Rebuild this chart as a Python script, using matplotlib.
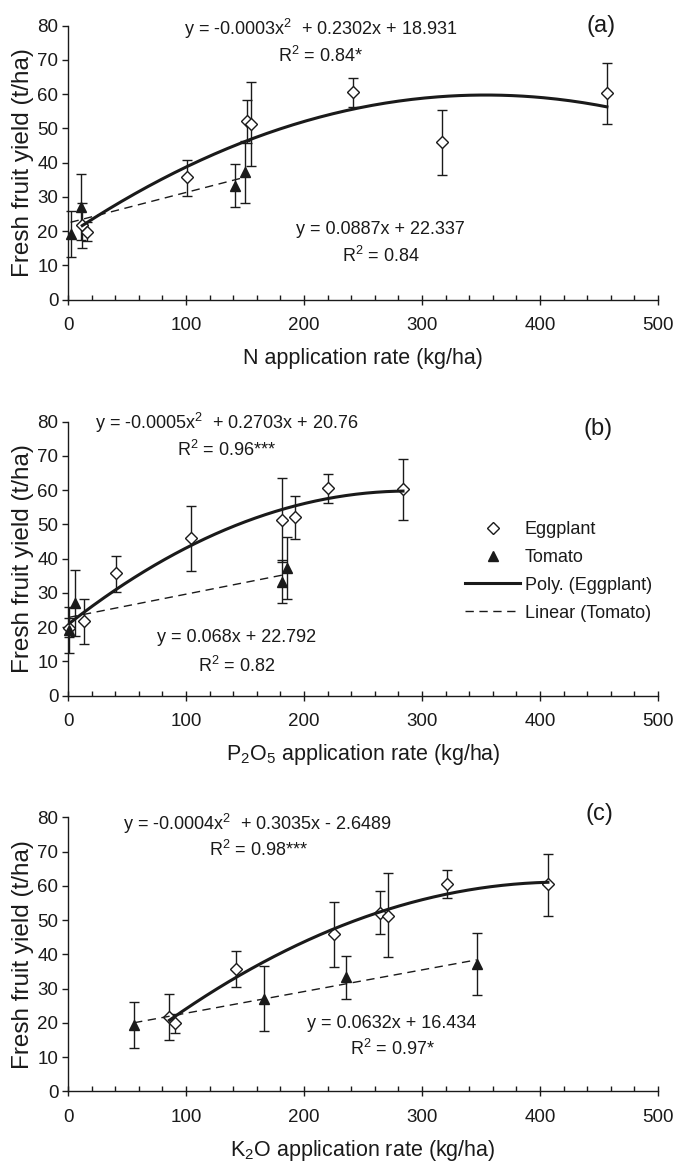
import matplotlib
matplotlib.use('Agg')
import matplotlib.pyplot as plt
import numpy as np

plt.rcParams['font.family'] = ['Liberation Sans', 'DejaVu Sans']
plt.rcParams['mathtext.fontset'] = 'custom'
plt.rcParams['mathtext.rm'] = 'Liberation Sans'
plt.rcParams['mathtext.it'] = 'Liberation Sans:italic'
plt.rcParams['mathtext.default'] = 'regular'

INK = '#1a1a1a'

# Eggplant yields (t/ha), same 8 treatments in every panel, with error bar ends
egg_y = [21.7, 19.8, 35.8, 45.9, 52.1, 51.3, 60.5, 60.4]
egg_lo = [15.0, 17.0, 30.4, 36.3, 45.8, 39.1, 56.4, 51.3]
egg_hi = [28.3, 22.6, 40.9, 55.4, 58.4, 63.7, 64.7, 69.2]
# Tomato yields (t/ha), 4 treatments
tom_y = [19.3, 27.0, 33.3, 37.2]
tom_lo = [12.6, 17.5, 27.0, 28.2]
tom_hi = [26.0, 36.7, 39.6, 46.2]

# application rates (kg/ha), in the treatment order above
egg_n = [12.1, 15.8, 101, 316.6, 151.5, 155.2, 241.4, 456.7]
egg_p = [13.5, 1.0, 41, 104.4, 192.7, 181, 220.5, 283.9]
egg_k = [86, 90.8, 142, 225.8, 264.6, 271.2, 321.4, 406.7]
tom_n = [2.2, 11, 141.6, 150.4]
tom_p = [1.1, 6.2, 181, 185.7]
tom_k = [56, 166.5, 236, 346.3]

x_labels = ['N application rate (kg/ha)',
            'P$_2$O$_5$ application rate (kg/ha)',
            'K$_2$O application rate (kg/ha)']
panel_tags = ['(a)', '(b)', '(c)']
poly_eqs = ['y = -0.0003x$^2$  + 0.2302x + 18.931',
            'y = -0.0005x$^2$  + 0.2703x + 20.76',
            'y = -0.0004x$^2$  + 0.3035x - 2.6489']
poly_r2 = ['R$^2$ = 0.84*', 'R$^2$ = 0.96***', 'R$^2$ = 0.98***']
lin_eqs = ['y = 0.0887x + 22.337', 'y = 0.068x + 22.792', 'y = 0.0632x + 16.434']
lin_r2 = ['R$^2$ = 0.84', 'R$^2$ = 0.82', 'R$^2$ = 0.97*']

egg_x = [egg_n, egg_p, egg_k]
tom_x = [tom_n, tom_p, tom_k]

# text anchor points in data units: (poly eq, poly r2, lin eq, lin r2, tag)
text_pos = [
    [(214.6, 79.0), (214, 71.2), (264.5, 20.6), (265, 12.8), (452, 80.0)],
    [(134.8, 79.7), (134.4, 71.8), (142.9, 17.1), (143, 8.8), (449.5, 77.9)],
    [(161, 78.2), (161.4, 70.6), (274, 19.7), (275, 12.5), (450, 81.0)],
]

fig = plt.figure(figsize=(6.81, 11.68), dpi=100)
W, H = 681.0, 1168.0
tops = [25.7, 421.7, 817.3]
ax_h = 274.0
axes = [fig.add_axes([68 / W, 1 - (t + ax_h) / H, 590 / W, ax_h / H]) for t in tops]

for i, ax in enumerate(axes):
    xe = np.array(egg_x[i], dtype=float)
    xt = np.array(tom_x[i], dtype=float)
    ye = np.array(egg_y)
    yt = np.array(tom_y)

    ax.errorbar(xe, ye, yerr=[ye - np.array(egg_lo), np.array(egg_hi) - ye],
                fmt='none', ecolor=INK, elinewidth=1, capsize=3.8, capthick=1,
                zorder=2, clip_on=False)
    ax.errorbar(xt, yt, yerr=[yt - np.array(tom_lo), np.array(tom_hi) - yt],
                fmt='none', ecolor=INK, elinewidth=1, capsize=3.8, capthick=1,
                zorder=2, clip_on=False)
    ax.plot(xe, ye, 'D', ms=6, mfc='white', mec=INK, mew=1, ls='none',
            zorder=3, clip_on=False, label='Eggplant')
    ax.plot(xt, yt, '^', ms=6.5, color=INK, ls='none', zorder=3,
            clip_on=False, label='Tomato')

    # trend lines fitted to the points
    pe = np.polyfit(xe, ye, 2)
    xs = np.linspace(xe.min(), xe.max(), 200)
    ax.plot(xs, np.polyval(pe, xs), '-', lw=2.2, color=INK, zorder=4,
            label='Poly. (Eggplant)')
    pt = np.polyfit(xt, yt, 1)
    xl = np.array([xt.min(), xt.max()])
    ax.plot(xl, np.polyval(pt, xl), color=INK, lw=1, dashes=(6, 4), zorder=4,
            label='Linear (Tomato)')

    ax.set_xlim(0, 500)
    ax.set_ylim(0, 80)
    ax.set_xticks(range(0, 501, 100))
    ax.set_xticks(range(0, 501, 20), minor=True)
    ax.set_yticks(range(0, 81, 10))
    for s in ['top', 'right']:
        ax.spines[s].set_visible(False)
    for s in ['left', 'bottom']:
        ax.spines[s].set_color(INK)
        ax.spines[s].set_linewidth(1.0)
    ax.tick_params(axis='x', which='major', direction='inout', length=7.2,
                   width=1, color=INK, pad=9, labelsize=13.5, labelcolor=INK)
    ax.tick_params(axis='x', which='minor', direction='in', length=3.6,
                   width=1, color=INK)
    ax.tick_params(axis='y', direction='out', length=4, width=1, color=INK,
                   pad=3, labelsize=13.5, labelcolor=INK)

    ax.set_ylabel('Fresh fruit yield (t/ha)', fontsize=17.5, color=INK)
    ax.yaxis.set_label_coords(-0.0755, 0.5)
    ax.yaxis.label.set_va('center')
    ax.set_xlabel(x_labels[i], fontsize=15.5, color=INK)
    ax.xaxis.set_label_coords(0.5, -59 / ax_h)
    ax.xaxis.label.set_va('center')

    p = text_pos[i]
    ax.text(*p[0], poly_eqs[i], fontsize=13, ha='center', va='center', color=INK)
    ax.text(*p[1], poly_r2[i], fontsize=13, ha='center', va='center', color=INK)
    ax.text(*p[2], lin_eqs[i], fontsize=13, ha='center', va='center', color=INK)
    ax.text(*p[3], lin_r2[i], fontsize=13, ha='center', va='center', color=INK)
    ax.text(*p[4], panel_tags[i], fontsize=17, ha='center', va='center', color=INK)

h, l = axes[1].get_legend_handles_labels()
leg = axes[1].legend(h, l, loc='upper left',
                     bbox_to_anchor=(465 / W, 1 - 521 / H),
                     bbox_transform=fig.transFigure, frameon=False,
                     fontsize=13, handlelength=3.05, handletextpad=0.25,
                     labelspacing=0.6, borderpad=0, borderaxespad=0,
                     numpoints=1)
for t in leg.get_texts():
    t.set_color(INK)

fig.savefig('out.png', dpi=100)
